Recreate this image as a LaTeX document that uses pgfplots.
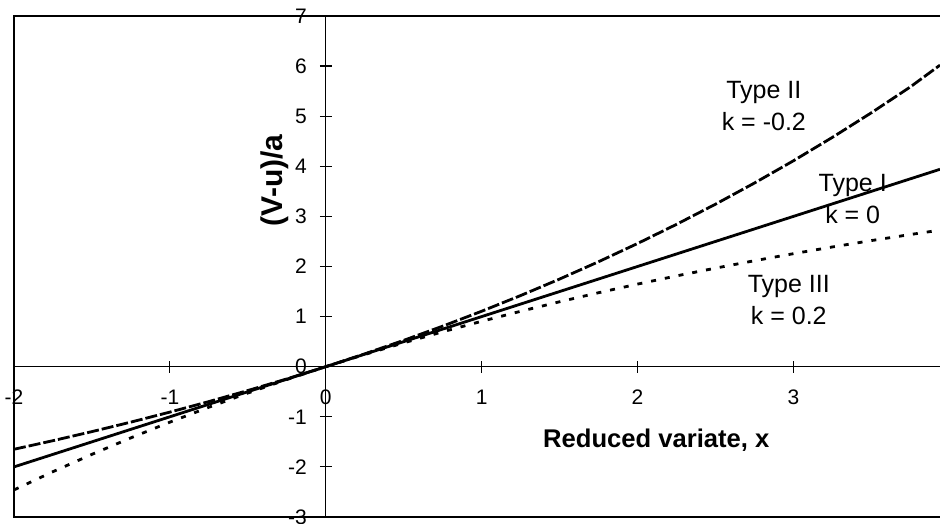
\documentclass[border=0pt]{standalone}
\usepackage{fontspec}
\setmainfont{Liberation Sans}
\usepackage{pgfplots}
\pgfplotsset{compat=1.18}

\begin{document}
\begin{tikzpicture}
\begin{axis}[
    scale only axis,
    width=463pt, height=250.5pt,
    xmin=-2, xmax=3.94, ymin=-3, ymax=7,
    axis lines=middle,
    axis line style={-, line width=0.6pt},
    hide obscured x ticks=false,
    hide obscured y ticks=false,
    xtick={-2,-1,0,1,2,3},
    ytick={-3,-2,...,7},
    tick align=center,
    major tick length=6pt,
    tick style={black, line width=0.6pt},
    ticklabel style={font=\fontsize{10.5}{12}\selectfont},
    /pgf/number format/assume math mode=true,
    xticklabel shift=5pt,
    yticklabel shift=3pt,
    clip=false,
    every axis x label/.style={at={(axis cs:2.12,-1.46)}, anchor=center, font=\bfseries\fontsize{12.8}{15}\selectfont},
    every axis y label/.style={at={(axis cs:-0.33,3.72)}, anchor=center, rotate=90, font=\bfseries\fontsize{15}{17}\selectfont},
    xlabel={Reduced variate, x},
    ylabel={(V-u)/a},
]
% frame (no right edge, the scan is cut there)
\draw[line width=1pt] (rel axis cs:1,1) -- (rel axis cs:0,1) -- (rel axis cs:0,0) -- (rel axis cs:1,0);
\coordinate (sw) at (rel axis cs:0,0);
\coordinate (ne) at (rel axis cs:1,1);

% Type II, k = -0.2
\addplot[black, line width=1.4pt, dash pattern=on 6pt off 1.5pt] coordinates {
    (-2,-1.6484) (-1.75,-1.4766) (-1.5,-1.2959) (-1.25,-1.1060) (-1,-0.9063)
    (-0.75,-0.6965) (-0.5,-0.4758) (-0.25,-0.2439) (0,0) (0.25,0.2564)
    (0.5,0.5259) (0.75,0.8092) (1,1.1070) (1.25,1.4201) (1.5,1.7493)
    (1.75,2.0953) (2,2.4591) (2.25,2.8416) (2.5,3.2436) (2.75,3.6663)
    (3,4.1106) (3.25,4.5777) (3.5,5.0688) (3.75,5.5850) (3.94,6.0190)
};
% Type I, k = 0
\addplot[black, line width=1.4pt] coordinates {
    (-2,-2) (0,0) (3.94,3.94)
};
% Type III, k = 0.2
\addplot[black, line width=1.4pt, dash pattern=on 2.5pt off 4.5pt] coordinates {
    (-2,-2.4591) (-1.75,-2.0953) (-1.5,-1.7493) (-1.25,-1.4201) (-1,-1.1070)
    (-0.75,-0.8092) (-0.5,-0.5259) (-0.25,-0.2564) (0,0) (0.25,0.2439)
    (0.5,0.4758) (0.75,0.6965) (1,0.9063) (1.25,1.1060) (1.5,1.2959)
    (1.75,1.4766) (2,1.6484) (2.25,1.8119) (2.5,1.9673) (2.75,2.1153)
    (3,2.2559) (3.25,2.3898) (3.5,2.5171) (3.75,2.6382) (3.94,2.7260)
};

\node[align=center, font=\fontsize{12.5}{16}\selectfont] at (axis cs:2.81,5.2) {Type II\\k = -0.2};
\node[align=center, font=\fontsize{12.5}{16}\selectfont] at (axis cs:3.38,3.34) {Type I\\k = 0};
\node[align=center, font=\fontsize{12.5}{16}\selectfont] at (axis cs:2.97,1.34) {Type III\\k = 0.2};
\end{axis}
\pgfresetboundingbox
\useasboundingbox ([shift={(-7pt,-3.5pt)}]sw) rectangle ([shift={(0pt,8pt)}]ne);
\end{tikzpicture}
\end{document}
